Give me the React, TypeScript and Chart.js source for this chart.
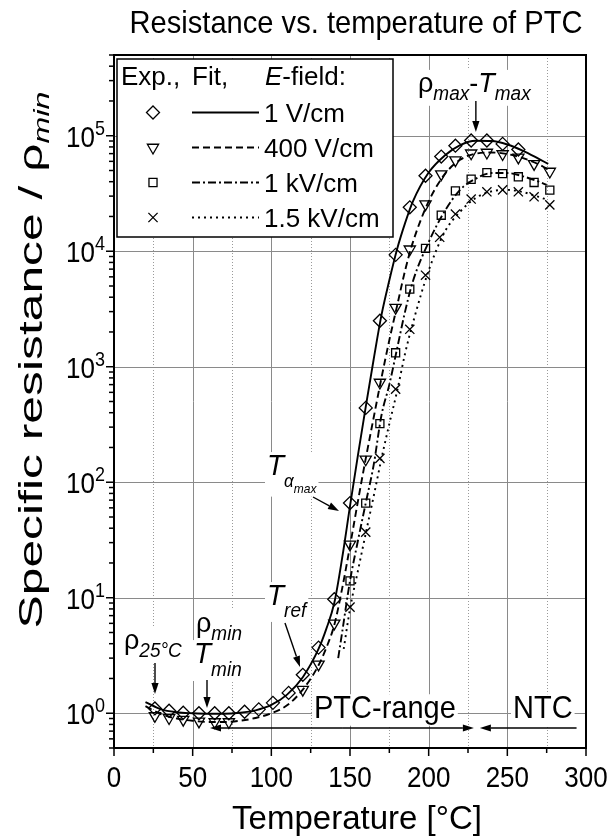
import { useEffect, useRef } from "react";
import { Chart, registerables } from "chart.js";

Chart.register(...registerables);

const FAMILY = "'Liberation Sans', Arial, Helvetica, sans-serif";

// Measured points: temperature in °C, specific resistance normalised to rho_min
const tempDiamond = [26, 35, 44, 54, 64, 73, 83, 92, 101, 111, 120, 130, 140, 150, 160, 169, 179, 188, 198, 208, 217, 227, 237, 247, 257];
const rhoDiamond = [1.1, 1.05, 1.01, 1.0, 1.0, 1.0, 1.03, 1.08, 1.23, 1.5, 2.15, 3.7, 9.7, 66, 440, 2500, 9300, 24000, 45000, 66000, 82000, 91000, 91000, 85000, 76000];

const tempTriangle = [26, 35, 44, 54, 64, 73, 120, 130, 140, 150, 160, 169, 179, 188, 198, 208, 217, 227, 237, 247, 257, 267, 277];
const rhoTriangle = [0.95, 0.91, 0.88, 0.85, 0.84, 0.84, 1.6, 2.65, 6.0, 29, 158, 730, 3250, 10400, 25600, 46500, 61500, 70500, 71600, 69500, 65000, 57000, 49000];

const tempSquare = [150, 160, 169, 179, 188, 198, 208, 217, 227, 237, 247, 257, 267, 277];
const rhoSquare = [14, 66, 322, 1320, 4700, 10600, 20500, 33300, 42000, 47900, 47000, 44100, 39400, 33800];

const tempCross = [150, 160, 169, 179, 188, 198, 207, 217, 227, 237, 247, 257, 267, 277];
const rhoCross = [8.3, 37, 161, 640, 2110, 6200, 13200, 21000, 28300, 32700, 34000, 32700, 29600, 25200];

// Fitted curves
const tempFit1V = [20, 30, 40, 50, 60, 70, 80, 90, 100, 110, 120, 130, 135, 140, 145, 150, 155, 160, 165, 170, 175, 180, 185, 190, 200, 210, 220, 230, 240, 250, 260, 270, 276];
const rhoFit1V = [1.25, 1.08, 1.02, 1.0, 0.99, 0.99, 1.01, 1.06, 1.18, 1.45, 2.05, 3.6, 5.4, 9.0, 22, 62, 170, 450, 1150, 2800, 5600, 10500, 17500, 27000, 48000, 67000, 83000, 90500, 90000, 84000, 74000, 63000, 57000];

const tempFit400V = [20, 30, 40, 50, 60, 70, 80, 90, 100, 110, 120, 130, 135, 140, 145, 150, 155, 160, 165, 170, 175, 180, 185, 190, 200, 210, 220, 230, 240, 250, 260, 270, 277];
const rhoFit400V = [1.15, 0.98, 0.9, 0.86, 0.84, 0.84, 0.86, 0.91, 1.0, 1.17, 1.6, 2.6, 3.7, 5.8, 12, 28, 68, 160, 360, 800, 1700, 3400, 6800, 12000, 27000, 46000, 62000, 70000, 71500, 69500, 64000, 56500, 50000];

const tempFit1kV = [142.5, 145, 150, 155, 160, 165, 170, 175, 180, 185, 190, 200, 210, 220, 230, 240, 250, 260, 270, 275];
const rhoFit1kV = [3.0, 5.0, 14, 31, 66, 140, 380, 700, 1450, 3000, 5500, 12000, 22000, 34000, 42500, 47500, 47500, 44500, 40000, 37500];

const tempFit15kV = [146, 150, 155, 160, 165, 170, 175, 180, 185, 190, 200, 210, 220, 230, 240, 250, 260, 270, 275];
const rhoFit15kV = [3.6, 8.0, 17, 36, 75, 160, 320, 620, 1300, 2400, 6800, 14500, 22000, 29000, 33000, 34000, 32500, 29500, 28000];

// Axes
const xMajorTicks = [0, 50, 100, 150, 200, 250, 300];
const xMinorTicks = [25, 75, 125, 175, 225, 275];
const yDecadeExponents = [0, 1, 2, 3, 4, 5];
const yMinorMantissas = [2, 3, 4, 5, 6, 7, 8, 9];

// Legend
const legendHeader = ["Exp.,", "Fit,", "-field:"];
const fieldLabels = ["1 V/cm", "400 V/cm", "1 kV/cm", "1.5 kV/cm"];
const markerStyles = ["rectRot", "triangle", "rect", "crossRot"];
const lineDashes: number[][] = [[], [7, 4], [8, 3, 2, 3], [2, 4]];

const MARK_RADIUS: Record<string, number> = { rectRot: 6.5, triangle: 6.5, rect: 5.7, crossRot: 6.5 };

type Run = { text: string; size: number; italic?: boolean; dy?: number };

function setFont(ctx: CanvasRenderingContext2D, size: number, italic?: boolean) {
  ctx.font = `${italic ? "italic " : ""}${size}px ${FAMILY}`;
}

function runsWidth(ctx: CanvasRenderingContext2D, runs: Run[]) {
  let w = 0;
  for (const r of runs) {
    setFont(ctx, r.size, r.italic);
    w += ctx.measureText(r.text).width;
  }
  return w;
}

// Draws a row of text pieces (sub/superscripts via dy); sx/sy scale the glyphs about the baseline.
function drawRuns(
  ctx: CanvasRenderingContext2D,
  runs: Run[],
  x: number,
  y: number,
  align: "left" | "center" | "right" = "left",
  sx = 1,
  sy = 1,
  backdrop = false
) {
  const w = runsWidth(ctx, runs) * sx;
  const x0 = align === "center" ? x - w / 2 : align === "right" ? x - w : x;
  ctx.save();
  ctx.textAlign = "left";
  ctx.textBaseline = "alphabetic";
  if (backdrop) {
    const big = Math.max(...runs.map((r) => r.size));
    const low = Math.max(...runs.map((r) => (r.dy ?? 0) + r.size * 0.22));
    ctx.fillStyle = "#fff";
    ctx.fillRect(x0 - 2, y - big * 0.78 * sy, w + 4, big * 0.78 * sy + low * sy + 1);
  }
  ctx.translate(x0, y);
  ctx.scale(sx, sy);
  ctx.fillStyle = "#000";
  let px = 0;
  for (const r of runs) {
    setFont(ctx, r.size, r.italic);
    ctx.fillText(r.text, px, r.dy ?? 0);
    px += ctx.measureText(r.text).width;
  }
  ctx.restore();
}

function arrow(ctx: CanvasRenderingContext2D, x1: number, y1: number, x2: number, y2: number, head = 11, half = 3.6) {
  const a = Math.atan2(y2 - y1, x2 - x1);
  const bx = x2 - head * Math.cos(a);
  const by = y2 - head * Math.sin(a);
  ctx.beginPath();
  ctx.moveTo(x1, y1);
  ctx.lineTo(bx, by);
  ctx.stroke();
  ctx.beginPath();
  ctx.moveTo(x2, y2);
  ctx.lineTo(bx - half * Math.sin(a), by + half * Math.cos(a));
  ctx.lineTo(bx + half * Math.sin(a), by - half * Math.cos(a));
  ctx.closePath();
  ctx.fill();
}

function drawMarker(ctx: CanvasRenderingContext2D, style: string, x: number, y: number) {
  const r = MARK_RADIUS[style];
  ctx.beginPath();
  if (style === "rectRot") {
    ctx.moveTo(x - r, y);
    ctx.lineTo(x, y - r);
    ctx.lineTo(x + r, y);
    ctx.lineTo(x, y + r);
    ctx.closePath();
  } else if (style === "triangle") {
    ctx.moveTo(x, y + r);
    ctx.lineTo(x - r * 0.866, y - r * 0.5);
    ctx.lineTo(x + r * 0.866, y - r * 0.5);
    ctx.closePath();
  } else if (style === "rect") {
    const s = r * Math.SQRT1_2;
    ctx.rect(x - s, y - s, 2 * s, 2 * s);
  } else {
    const s = r * Math.SQRT1_2;
    ctx.moveTo(x - s, y - s);
    ctx.lineTo(x + s, y + s);
    ctx.moveTo(x + s, y - s);
    ctx.lineTo(x - s, y + s);
  }
  ctx.stroke();
}

const paperPlugin = {
  id: "paperLayout",
  beforeDatasetsDraw(chart: any) {
    const { ctx, chartArea: a, scales } = chart;
    const xs = scales.x;
    const ys = scales.y;
    ctx.save();
    ctx.lineWidth = 1;
    // dotted intermediate verticals
    ctx.strokeStyle = "#9a9a9a";
    ctx.setLineDash([1, 2]);
    for (const v of xMinorTicks) {
      const p = Math.round(xs.getPixelForValue(v)) + 0.5;
      ctx.beginPath();
      ctx.moveTo(p, a.top);
      ctx.lineTo(p, a.bottom);
      ctx.stroke();
    }
    ctx.setLineDash([]);
    ctx.strokeStyle = "#8a8a8a";
    for (const v of xMajorTicks) {
      if (v === 0 || v === 300) continue;
      const p = Math.round(xs.getPixelForValue(v)) + 0.5;
      ctx.beginPath();
      ctx.moveTo(p, a.top);
      ctx.lineTo(p, a.bottom);
      ctx.stroke();
    }
    for (const e of yDecadeExponents) {
      const p = Math.round(ys.getPixelForValue(Math.pow(10, e))) + 0.5;
      ctx.beginPath();
      ctx.moveTo(a.left, p);
      ctx.lineTo(a.right, p);
      ctx.stroke();
    }
    ctx.restore();
  },
  afterDatasetsDraw(chart: any) {
    const { ctx, chartArea: a, scales } = chart;
    const xs = scales.x;
    const ys = scales.y;
    ctx.save();

    // frame
    ctx.strokeStyle = "#000";
    ctx.lineWidth = 2;
    ctx.strokeRect(a.left, a.top, a.right - a.left, a.bottom - a.top);

    // x ticks and labels
    ctx.lineWidth = 1.5;
    for (const v of xMajorTicks) {
      const p = xs.getPixelForValue(v);
      ctx.beginPath();
      ctx.moveTo(p, a.bottom);
      ctx.lineTo(p, a.bottom + 8);
      ctx.stroke();
      drawRuns(ctx, [{ text: String(v), size: 26 }], p, 787, "center", 1, 1.1);
    }
    for (const v of xMinorTicks) {
      const p = xs.getPixelForValue(v);
      ctx.beginPath();
      ctx.moveTo(p, a.bottom);
      ctx.lineTo(p, a.bottom + 5);
      ctx.stroke();
    }

    // y ticks and labels
    for (let e = -1; e <= 5; e++) {
      const dec = Math.pow(10, e);
      if (e >= 0) {
        const p = ys.getPixelForValue(dec);
        ctx.beginPath();
        ctx.moveTo(a.left, p);
        ctx.lineTo(a.left - 8, p);
        ctx.stroke();
        drawRuns(
          ctx,
          [
            { text: "10", size: 26 },
            { text: String(e), size: 18, dy: -11 },
          ],
          105,
          p + 11,
          "right",
          1,
          1.1
        );
      }
      for (const m of yMinorMantissas) {
        const v = m * dec;
        if (v < ys.min || v > ys.max) continue;
        const p = ys.getPixelForValue(v);
        ctx.beginPath();
        ctx.moveTo(a.left, p);
        ctx.lineTo(a.left - 5, p);
        ctx.stroke();
      }
    }

    // chart title
    const titleRuns: Run[] = [{ text: "Resistance vs. temperature of PTC", size: 29 }];
    drawRuns(ctx, titleRuns, 356, 33, "center", 453 / runsWidth(ctx, titleRuns), 1.05);

    // x-axis title
    const xTitle: Run[] = [{ text: "Temperature [°C]", size: 31 }];
    drawRuns(ctx, xTitle, 357, 829, "center", 250 / runsWidth(ctx, xTitle), 1.05);

    // y-axis title
    const yTitle: Run[] = [
      { text: "Specific resistance / ", size: 34 },
      { text: "ρ", size: 34 },
      { text: "min", size: 22, italic: true, dy: 7 },
    ];
    ctx.save();
    ctx.translate(42, 360);
    ctx.rotate(-Math.PI / 2);
    drawRuns(ctx, yTitle, 0, 0, "center", 537 / runsWidth(ctx, yTitle), 1);
    ctx.restore();

    // legend box
    ctx.fillStyle = "#fff";
    ctx.fillRect(117, 59, 276, 178);
    ctx.lineWidth = 1.5;
    ctx.strokeStyle = "#000";
    ctx.strokeRect(117, 59, 276, 178);
    drawRuns(ctx, [{ text: legendHeader[0], size: 26 }], 121, 85);
    drawRuns(ctx, [{ text: legendHeader[1], size: 26 }], 192, 85);
    drawRuns(ctx, [{ text: "E", size: 26, italic: true }, { text: legendHeader[2], size: 26 }], 265, 85);
    fieldLabels.forEach((label, i) => {
      const base = 122 + i * 35;
      const mid = base - 9.5;
      ctx.strokeStyle = "#000";
      ctx.lineWidth = 1.3;
      ctx.setLineDash([]);
      drawMarker(ctx, markerStyles[i], 153, mid);
      ctx.lineWidth = 1.8;
      ctx.setLineDash(lineDashes[i]);
      ctx.beginPath();
      ctx.moveTo(192, mid);
      ctx.lineTo(259, mid);
      ctx.stroke();
      ctx.setLineDash([]);
      drawRuns(ctx, [{ text: label, size: 26 }], 264, base);
    });

    // annotations
    ctx.fillStyle = "#000";
    ctx.strokeStyle = "#000";
    ctx.lineWidth = 1.4;
    drawRuns(
      ctx,
      [
        { text: "ρ", size: 27 },
        { text: "max", size: 19, italic: true, dy: 8 },
        { text: "-", size: 27 },
        { text: "T", size: 27, italic: true },
        { text: "max", size: 19, italic: true, dy: 8 },
      ],
      418,
      92,
      "left",
      1,
      1.05,
      true
    );
    arrow(ctx, xs.getPixelForValue(230), 101, xs.getPixelForValue(230), 132);

    drawRuns(ctx, [{ text: "ρ", size: 27 }, { text: "25°C", size: 19, italic: true, dy: 8 }], 124, 649, "left", 1, 1.05, true);
    arrow(ctx, 155, 663, 155, 694);

    drawRuns(ctx, [{ text: "ρ", size: 27 }, { text: "min", size: 19, italic: true, dy: 8 }], 196, 632, "left", 1, 1.05, true);
    drawRuns(ctx, [{ text: "T", size: 28, italic: true }, { text: "min", size: 19, italic: true, dy: 12 }], 194, 663, "left", 1, 1.05, true);
    arrow(ctx, 207, 680, 207, 708);

    drawRuns(ctx, [{ text: "T", size: 28, italic: true }, { text: "ref", size: 19, italic: true, dy: 11 }], 267, 605, "left", 1, 1.05, true);
    arrow(ctx, 285, 623, 300, 667);

    drawRuns(
      ctx,
      [
        { text: "T", size: 28, italic: true },
        { text: "α", size: 17, italic: true, dy: 11 },
        { text: "max", size: 12, italic: true, dy: 17 },
      ],
      267,
      475,
      "left",
      1,
      1.05,
      true
    );
    arrow(ctx, 313, 497, 339, 511);

    drawRuns(ctx, [{ text: "PTC-range", size: 29 }], 314, 718, "left", 1, 1.05, true);
    drawRuns(ctx, [{ text: "NTC", size: 29 }], 513, 718, "left", 1, 1.05, true);
    ctx.lineWidth = 1.4;
    const yArrow = 728;
    const pLeft = xs.getPixelForValue(61);
    const pMid = xs.getPixelForValue(230);
    const pRight = xs.getPixelForValue(294);
    arrow(ctx, (pLeft + pMid) / 2, yArrow, pLeft, yArrow);
    arrow(ctx, (pLeft + pMid) / 2, yArrow, pMid - 2, yArrow);
    arrow(ctx, pRight, yArrow, pMid + 4, yArrow);

    ctx.restore();
  },
};

function points(t: number[], v: number[]) {
  return t.map((x, i) => ({ x, y: v[i] }));
}

function markerSet(t: number[], v: number[], style: string, rotation = 0) {
  return {
    data: points(t, v),
    showLine: false,
    pointStyle: style,
    pointRadius: MARK_RADIUS[style],
    pointHoverRadius: MARK_RADIUS[style],
    pointRotation: rotation,
    pointBorderWidth: 1.3,
    pointBorderColor: "#000",
    pointBackgroundColor: "rgba(0,0,0,0)",
    borderColor: "#000",
  };
}

function fitSet(t: number[], v: number[], dash: number[]) {
  return {
    data: points(t, v),
    showLine: true,
    borderColor: "#000",
    borderWidth: 1.9,
    borderDash: dash,
    pointRadius: 0,
    pointHoverRadius: 0,
    fill: false,
    cubicInterpolationMode: "monotone" as const,
  };
}

export default function App() {
  const canvasRef = useRef<HTMLCanvasElement>(null);

  useEffect(() => {
    const canvas = canvasRef.current;
    if (!canvas) return;
    const chart = new Chart(canvas, {
      type: "line",
      data: {
        datasets: [
          fitSet(tempFit1V, rhoFit1V, lineDashes[0]),
          fitSet(tempFit400V, rhoFit400V, lineDashes[1]),
          fitSet(tempFit1kV, rhoFit1kV, lineDashes[2]),
          fitSet(tempFit15kV, rhoFit15kV, lineDashes[3]),
          markerSet(tempDiamond, rhoDiamond, "rectRot"),
          markerSet(tempTriangle, rhoTriangle, "triangle", 180),
          markerSet(tempSquare, rhoSquare, "rect"),
          markerSet(tempCross, rhoCross, "crossRot"),
        ] as any,
      },
      options: {
        responsive: false,
        animation: false,
        devicePixelRatio: 1,
        layout: { padding: { left: 114, right: 26, top: 55, bottom: 89 } },
        scales: {
          x: { type: "linear", min: 0, max: 300, display: false },
          y: { type: "logarithmic", min: 0.5, max: 5e5, display: false },
        },
        plugins: {
          legend: { display: false },
          tooltip: { enabled: false },
          title: { display: false },
        },
        events: [],
      },
      plugins: [paperPlugin],
    });
    return () => chart.destroy();
  }, []);

  return (
    <div style={{ position: "absolute", left: 0, top: 0, width: 612, height: 837, background: "#fff" }}>
      <canvas ref={canvasRef} width={612} height={837} style={{ display: "block", width: 612, height: 837 }} />
    </div>
  );
}
